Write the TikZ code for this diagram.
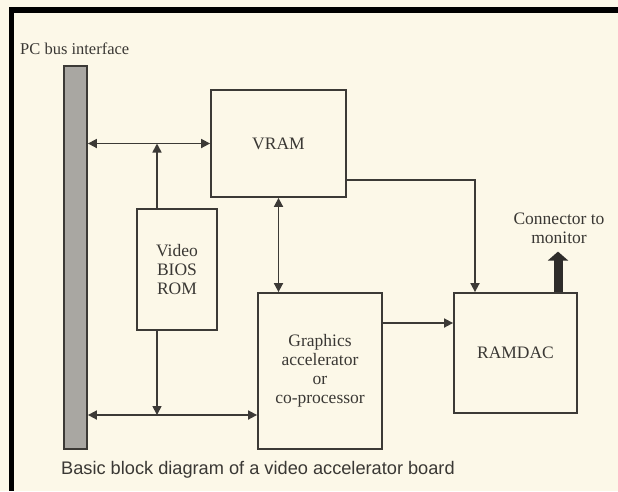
\documentclass[tikz,border=0pt]{standalone}
\usepackage{fontspec}
\setmainfont{Liberation Serif}
\setsansfont{Liberation Sans}
\usetikzlibrary{arrows.meta,calc}
\definecolor{bgc}{HTML}{FCF8E8}
\definecolor{linec}{HTML}{3C3A36}
\definecolor{txtc}{HTML}{3A3834}
\definecolor{busc}{HTML}{A9A7A2}
\definecolor{thickc}{HTML}{2E2C2A}
\begin{document}
\begin{tikzpicture}[x=1pt,y=-1pt,
  box/.style={draw=linec, line width=1.8pt, inner sep=0pt, align=center,
    text=txtc, font=\fontsize{17.5}{19}\selectfont},
  conn/.style={draw=linec, line width=1.7pt, -{Triangle[length=9pt,width=9pt]}},
  dconn/.style={draw=linec, line width=1.7pt,
    {Triangle[length=9pt,width=9pt]}-{Triangle[length=9pt,width=9pt]}},
  lbl/.style={text=txtc, inner sep=0pt}]
\fill[bgc] (0,0) rectangle (618,491);
\useasboundingbox (0,0) rectangle (618,491);
\fill[black] (9,7) rectangle (618,12.5);
\fill[black] (9,7) rectangle (14,491);

% blocks
\node[box, fill=busc, minimum width=23pt, minimum height=383pt] (bus) at (75.5,257.5) {};
\node[box, minimum width=135pt, minimum height=107pt] (vram) at (278.5,143.5) {VRAM};
\node[box, minimum width=80pt, minimum height=121pt] (rom) at (177,269.5) {Video\\BIOS\\ROM};
\node[box, minimum width=124pt, minimum height=156pt] (ga) at (320,371) {Graphics\\accelerator\\or\\co-processor};
\node[box, minimum width=123pt, minimum height=120pt] (ramdac) at (515.5,353) {RAMDAC};

% labels
\node[lbl, anchor=base west, font=\fontsize{16.5}{18}\selectfont] (buslbl) at (20,54) {PC bus interface};
\node[lbl, align=center, font=\fontsize{17.5}{19}\selectfont] (monlbl) at (559,228) {Connector to\\monitor};
\node[lbl, anchor=base west, font=\sffamily\fontsize{18.2}{20}\selectfont] (caption) at (61,474) {Basic block diagram of a video accelerator board};

% connectors
\coordinate (romup) at ([xshift=-20pt]rom.north);
\coordinate (romdn) at ([xshift=-20pt]rom.south);
\coordinate (gain) at ([yshift=-44pt]ga.west);
\coordinate (vout) at ([yshift=-36.5pt]vram.east);
\coordinate (rin) at ([xshift=-40.5pt]ramdac.north);
\coordinate (gaout) at ([yshift=48pt]ga.east);
\coordinate (monbase) at ([xshift=42.5pt]ramdac.north);

\draw[dconn] (bus.east |- vram.west) -- (vram.west);
\draw[conn] (romup) -- (romup |- vram.west);
\draw[dconn] (bus.east |- gain) -- (gain);
\draw[conn] (romdn) -- (romdn |- gain);
\draw[dconn] (vram.south) -- (vram.south |- ga.north);
\draw[conn] (vout) -| (rin);
\draw[conn] (gaout) -- (gaout -| ramdac.west);
\draw[draw=thickc, line width=9pt, -{Triangle[length=9pt,width=20pt]}]
  (monbase) -- ([yshift=-8pt]monbase |- monlbl.south);
\end{tikzpicture}
\end{document}
